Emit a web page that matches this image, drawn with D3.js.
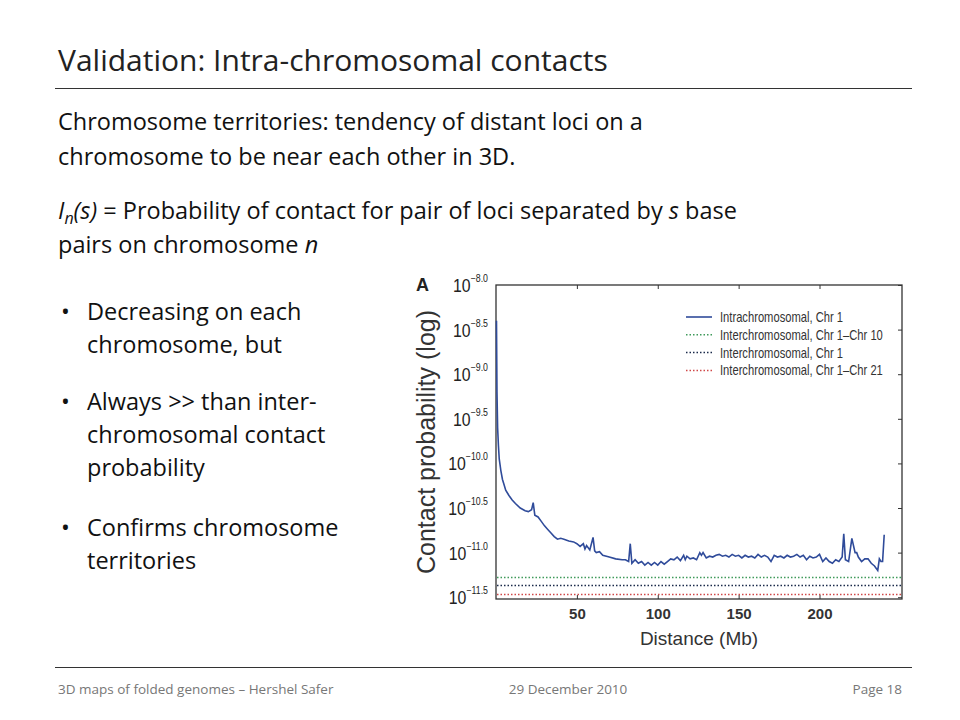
<!DOCTYPE html><html><head><meta charset="utf-8"><script src="https://cdn.jsdelivr.net/npm/d3@7"></script>
<style>body{margin:0;background:#fff}svg{display:block}</style></head><body><svg width="960" height="720"></svg>
<script>
const distMb=[0.3,0.6,1,1.5,2,3,4,5,6,8,10,12,15,18,20,22,23,24,26,28,
30,32,34,36,38,40,42,45,48,50,52,54,55,56,58,60,61,62,64,66,
70,74,78,80,82,83,84,86,88,90,92,94,96,98,100,102,104,106,108,110,
112,114,116,117,118,120,122,124,126,127,128,130,132,134,136,138,140,142,144,146,
148,150,152,154,156,158,160,162,164,166,168,170,172,174,176,178,180,182,184,186,
188,190,192,194,196,198,200,202,204,206,208,210,212,214,215,216,218,220,222,223,
224,226,228,230,232,234,236,237,238,239,240];
const intraLog=[-8.4,-9.2,-9.6,-9.8,-9.95,-10.08,-10.18,-10.24,-10.3,-10.36,-10.41,-10.45,-10.5,-10.53,-10.54,-10.52,-10.44,-10.58,-10.6,-10.65,
-10.7,-10.74,-10.78,-10.82,-10.85,-10.84,-10.85,-10.87,-10.88,-10.9,-10.93,-10.9,-10.96,-10.92,-10.97,-10.83,-10.98,-11.0,-10.99,-11.03,
-11.05,-11.07,-11.08,-11.08,-11.1,-10.9,-11.12,-11.08,-11.12,-11.1,-11.14,-11.11,-11.14,-11.11,-11.14,-11.1,-11.13,-11.1,-11.07,-11.08,
-11.05,-11.09,-11.03,-11.08,-11.04,-11.07,-11.06,-11.08,-11.0,-11.03,-11.0,-11.06,-11.04,-11.05,-11.03,-11.02,-11.04,-11.03,-11.05,-11.02,
-11.04,-11.03,-11.06,-11.03,-11.05,-11.04,-11.06,-11.02,-11.05,-11.03,-11.05,-11.1,-11.03,-11.05,-11.04,-11.06,-11.03,-11.05,-11.04,-11.02,
-11.05,-11.03,-11.08,-11.04,-11.06,-11.05,-11.02,-11.1,-11.06,-11.1,-11.12,-11.08,-11.1,-11.05,-10.79,-11.08,-11.1,-10.84,-11.0,-11.0,
-11.05,-11.1,-11.07,-11.07,-11.12,-11.15,-11.2,-11.07,-11.1,-11.1,-10.8];
const interSeries=["Interchromosomal, Chr 1\u2013Chr 10","Interchromosomal, Chr 1","Interchromosomal, Chr 1\u2013Chr 21"];
const interLog=[-11.28,-11.37,-11.47];
const interColors=["#3f9a5a","#1a2a4a","#d04848"];
const yTicks=[-8.0,-8.5,-9.0,-9.5,-10.0,-10.5,-11.0,-11.5];
const xTicks=[50,100,150,200];

const svg=d3.select("svg");
const F="'Open Sans', sans-serif";
svg.append("text").attr("x",58).attr("y",71).attr("font-family",F).attr("font-size",30).attr("fill","#222").text("Validation: Intra-chromosomal contacts");
svg.append("line").attr("x1",55).attr("x2",912).attr("y1",88.5).attr("y2",88.5).attr("stroke","#333");
const body=[["Chromosome territories: tendency of distant loci on a",130],["chromosome to be near each other in 3D.",165]];
body.forEach(([t,y])=>svg.append("text").attr("x",58).attr("y",y).attr("font-family",F).attr("font-size",23.5).attr("fill","#111").text(t));
const l3=svg.append("text").attr("x",58).attr("y",219).attr("font-family",F).attr("font-size",23.5).attr("fill","#111");
l3.append("tspan").attr("font-style","italic").text("I");
l3.append("tspan").attr("font-style","italic").attr("font-size",16).attr("dy",5).text("n");
l3.append("tspan").attr("font-style","italic").attr("dy",-5).text("(s)");
l3.append("tspan").text(" = Probability of contact for pair of loci separated by ");
l3.append("tspan").attr("font-style","italic").text("s");
l3.append("tspan").text(" base");
const l4=svg.append("text").attr("x",58).attr("y",253).attr("font-family",F).attr("font-size",23.5).attr("fill","#111");
l4.append("tspan").text("pairs on chromosome ");l4.append("tspan").attr("font-style","italic").text("n");
const bullets=[[["Decreasing on each","chromosome, but"],320],[["Always >> than inter-","chromosomal contact","probability"],410],[["Confirms chromosome","territories"],536]];
bullets.forEach(([ls,y])=>{
  svg.append("text").attr("x",61).attr("y",y).attr("font-family",F).attr("font-size",23.5).attr("fill","#111").text("\u2022");
  ls.forEach((t,i)=>svg.append("text").attr("x",87).attr("y",y+i*33).attr("font-family",F).attr("font-size",23.5).attr("fill","#111").text(t));
});
svg.append("line").attr("x1",55).attr("x2",912).attr("y1",667.5).attr("y2",667.5).attr("stroke","#333");
[["3D maps of folded genomes \u2013 Hershel Safer",58,"start"],["29 December 2010",568,"middle"],["Page 18",902,"end"]].forEach(([t,x,a])=>
  svg.append("text").attr("x",x).attr("y",694).attr("text-anchor",a).attr("font-family",F).attr("font-size",13.5).attr("fill","#777").text(t));

// chart
const L=496,R=902,T=285,B=599;
const x=d3.scaleLinear().domain([0,251]).range([L,R]);
const y=d3.scaleLinear().domain([-11.52,-8.0]).range([B,T]);
const N="'Liberation Sans',Arial,sans-serif";
const g=svg.append("g");
g.append("rect").attr("x",L).attr("y",T).attr("width",R-L).attr("height",B-T).attr("fill","none").attr("stroke","#333").attr("stroke-width",1.3);
g.append("g").attr("transform",`translate(0,${B})`).call(d3.axisBottom(x).tickValues(xTicks).tickSize(-4).tickPadding(9).tickFormat(d3.format("d")))
 .call(a=>{a.select(".domain").remove();a.selectAll("text").attr("font-family",N).attr("font-size",15).attr("font-weight","bold").attr("fill","#333");});
g.append("g").attr("transform",`translate(0,${T})`).call(d3.axisTop(x).tickValues(xTicks).tickSize(-4).tickFormat(""))
 .call(a=>a.select(".domain").remove());
g.append("g").attr("transform",`translate(${R},0)`).call(d3.axisRight(y).tickValues(yTicks).tickSize(-4).tickFormat(""))
 .call(a=>a.select(".domain").remove());
yTicks.forEach(v=>{
  const t=g.append("text").attr("transform",`translate(${L-8},${y(v)+7}) scale(0.88,1)`).attr("text-anchor","end").attr("font-family",N).attr("fill","#222");
  t.append("tspan").attr("font-size",18).text("10");
  t.append("tspan").attr("font-size",10).attr("dy",-10).text("\u2212"+v.toFixed(1).slice(1));
});
g.selectAll(".tick line").attr("stroke","#333");
interLog.forEach((v,i)=>g.append("line").attr("x1",L+1).attr("x2",R-1).attr("y1",y(v)).attr("y2",y(v)).attr("stroke",interColors[i]).attr("stroke-width",1.5).attr("stroke-dasharray","1.5,2"));
g.append("path").datum(distMb.map((d,i)=>[d,intraLog[i]])).attr("fill","none").attr("stroke","#2f4b9a").attr("stroke-width",1.6)
 .attr("d",d3.line().x(d=>x(d[0])).y(d=>y(d[1])));
// legend
const leg=["Intrachromosomal, Chr 1"].concat(interSeries);
leg.forEach((t,i)=>{
  const yy=317+i*17.8;
  const ln=g.append("line").attr("x1",686).attr("x2",712).attr("y1",yy).attr("y2",yy).attr("stroke",i?interColors[i-1]:"#2f4b9a").attr("stroke-width",i?1.5:1.6);
  if(i) ln.attr("stroke-dasharray","1.5,2");
  g.append("text").attr("transform",`translate(720,${yy+5}) scale(0.8,1)`).attr("font-family",N).attr("font-size",14).attr("fill","#333").text(t);
});
svg.append("text").attr("x",416).attr("y",291).attr("font-family",N).attr("font-weight","bold").attr("font-size",18).attr("fill","#222").text("A");
svg.append("text").attr("transform","translate(435,442) rotate(-90)").attr("text-anchor","middle").attr("font-family",N).attr("font-size",25).attr("fill","#333").text("Contact probability (log)");
svg.append("text").attr("x",699).attr("y",645).attr("text-anchor","middle").attr("font-family",N).attr("font-size",19).attr("fill","#333").text("Distance (Mb)");
</script></body></html>
